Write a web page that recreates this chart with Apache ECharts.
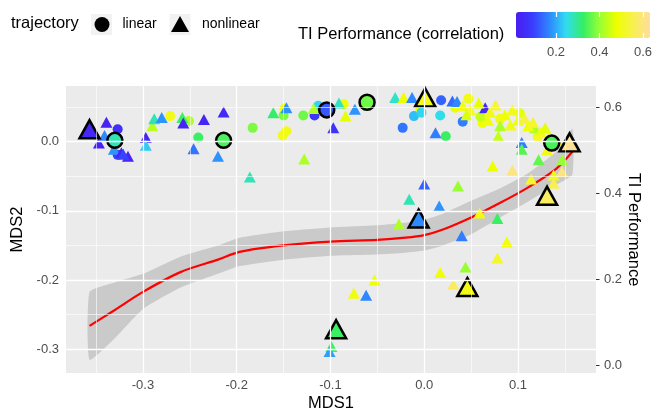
<!DOCTYPE html>
<html>
<head>
<meta charset="utf-8">
<script src="https://cdn.jsdelivr.net/npm/echarts@6/dist/echarts.min.js"></script>
<style>
html, body { margin: 0; padding: 0; background: #fff; }
#main { width: 654px; height: 414px; }
</style>
</head>
<body>
<div id="main"></div>
<script>
// [MDS1, MDS2, TI performance]
var linearPts = [
  [-0.327, 0.018, 0.06], [-0.327, -0.019, 0.10], [-0.271, 0.037, 0.50], [-0.251, 0.030, 0.42],
  [-0.241, 0.006, 0.33], [-0.183, 0.020, 0.38], [-0.149, 0.048, 0.50], [-0.150, 0.038, 0.38],
  [-0.147, 0.015, 0.50], [-0.151, 0.009, 0.50], [-0.129, 0.038, 0.37], [-0.117, 0.038, 0.08],
  [-0.113, 0.052, 0.24], [-0.086, 0.054, 0.48], [-0.023, 0.020, 0.15], [-0.011, 0.037, 0.22],
  [-0.004, 0.047, 0.48], [-0.003, 0.042, 0.24], [0.017, 0.038, 0.25], [0.018, 0.060, 0.13],
  [0.023, 0.008, 0.33], [0.041, 0.029, 0.16], [0.062, 0.027, 0.48], [0.033, 0.049, 0.48],
  [0.047, 0.062, 0.50], [0.081, 0.033, 0.50], [0.102, 0.041, 0.47], [0.121, 0.007, 0.51],
  [0.060, 0.036, 0.44]
];
var nonlinearPts = [
  [-0.339, 0.028, 0.03], [-0.347, -0.002, 0.03], [-0.341, 0.009, 0.17], [-0.331, -0.011, 0.18],
  [-0.323, -0.016, 0.04], [-0.316, -0.021, 0.04], [-0.321, -0.018, 0.10], [-0.297, 0.006, 0.04],
  [-0.297, -0.005, 0.23], [-0.290, 0.023, 0.43], [-0.288, 0.033, 0.28], [-0.280, 0.035, 0.18],
  [-0.258, 0.035, 0.33], [-0.257, 0.027, 0.04], [-0.235, 0.032, 0.04], [-0.246, -0.010, 0.15],
  [-0.214, 0.043, 0.05], [-0.220, -0.021, 0.18], [-0.186, -0.051, 0.28], [-0.161, 0.042, 0.32],
  [-0.147, 0.049, 0.18], [-0.118, 0.048, 0.42], [-0.097, 0.020, 0.07], [-0.091, 0.056, 0.27],
  [-0.084, 0.037, 0.47], [-0.074, 0.047, 0.18], [-0.128, -0.025, 0.42], [-0.031, 0.064, 0.27],
  [-0.022, 0.064, 0.48], [-0.013, 0.064, 0.17], [0.012, 0.013, 0.16], [0.030, 0.059, 0.14],
  [0.035, 0.058, 0.17], [0.065, 0.049, 0.05], [0.081, 0.023, 0.42], [0.079, 0.008, 0.44],
  [0.118, 0.020, 0.42], [0.104, -0.001, 0.16], [0.104, -0.011, 0.35], [0.073, -0.035, 0.48],
  [0.094, -0.041, 0.60], [0.122, -0.026, 0.36], [0.147, -0.026, 0.40], [0.114, -0.054, 0.52],
  [0.138, -0.048, 0.50], [0.147, -0.043, 0.60], [0.138, -0.060, 0.56], [0.000, -0.061, 0.13],
  [0.036, -0.064, 0.40], [-0.016, -0.083, 0.28], [0.016, -0.093, 0.18], [-0.027, -0.119, 0.42],
  [0.059, -0.103, 0.49], [0.078, -0.111, 0.33], [0.040, -0.136, 0.16], [0.088, -0.145, 0.49],
  [0.078, -0.168, 0.52], [0.044, -0.181, 0.40], [0.017, -0.189, 0.49], [0.031, -0.206, 0.57],
  [-0.053, -0.200, 0.49], [-0.075, -0.219, 0.49], [-0.062, -0.222, 0.17], [-0.099, -0.296, 0.33],
  [-0.101, -0.303, 0.19], [0.131, -0.012, 0.50],
  [0.041, 0.052, 0.50], [0.049, 0.046, 0.52], [0.058, 0.056, 0.47], [0.070, 0.043, 0.50],
  [0.076, 0.053, 0.53], [0.086, 0.039, 0.48], [0.094, 0.046, 0.51], [0.100, 0.031, 0.50],
  [0.107, 0.034, 0.54], [0.111, 0.023, 0.49], [0.116, 0.028, 0.52], [0.124, 0.014, 0.50],
  [0.129, 0.020, 0.47], [0.132, 0.005, 0.53], [0.141, 0.002, 0.50], [0.045, 0.039, 0.46],
  [0.068, 0.031, 0.49], [0.092, 0.024, 0.50]
];
// outlined (highlighted) datasets
var linearHi = [
  [-0.330, 0.002, 0.28], [-0.214, 0.002, 0.34], [-0.104, 0.046, 0.12],
  [-0.061, 0.057, 0.37], [0.136, -0.002, 0.34]
];
var nonlinearHi = [
  [-0.357, 0.018, 0.04], [0.001, 0.064, 0.50], [0.155, -0.001, 0.62], [0.131, -0.078, 0.57],
  [-0.006, -0.111, 0.17], [0.046, -0.210, 0.50], [-0.094, -0.271, 0.33]
];

// loess fit of TI performance along MDS1, with confidence band
var smoothX   = [-0.357, -0.33, -0.30, -0.26, -0.22, -0.197, -0.15, -0.10, -0.05, -0.02, 0.0, 0.02, 0.05, 0.08, 0.11, 0.14, 0.158];
var smoothFit = [0.091, 0.128, 0.170, 0.216, 0.245, 0.263, 0.278, 0.287, 0.291, 0.296, 0.302, 0.315, 0.343, 0.376, 0.412, 0.455, 0.496];
var smoothLo  = [0.012, 0.062, 0.130, 0.180, 0.212, 0.230, 0.245, 0.254, 0.257, 0.261, 0.266, 0.278, 0.304, 0.342, 0.379, 0.418, 0.443];
var smoothHi  = [0.170, 0.192, 0.212, 0.252, 0.278, 0.296, 0.311, 0.320, 0.325, 0.331, 0.338, 0.352, 0.382, 0.410, 0.445, 0.495, 0.549];

var xTicks = [-0.3, -0.2, -0.1, 0, 0.1];
var xMinor = [-0.35, -0.25, -0.15, -0.05, 0.05, 0.15];
var yTicks = [-0.3, -0.2, -0.1, 0];
var yMinor = [-0.25, -0.15, -0.05, 0.05];
var perfTicks = [0, 0.2, 0.4, 0.6];
var barTicks = [0.2, 0.4, 0.6];

var FONT = 'Liberation Sans';
var fmt = function (v) { return Number(v).toFixed(1); };

var gridLines = [];
xTicks.forEach(function (v) { gridLines.push({ xAxis: v, lineStyle: { width: 1.3 } }); });
xMinor.forEach(function (v) { gridLines.push({ xAxis: v, lineStyle: { width: 0.6 } }); });
yTicks.forEach(function (v) { gridLines.push({ yAxis: v, lineStyle: { width: 1.3 } }); });
yMinor.forEach(function (v) { gridLines.push({ yAxis: v, lineStyle: { width: 0.6 } }); });

var tickLabel = { color: '#4D4D4D', fontSize: 13, fontFamily: FONT };
var titleText = { color: '#000', fontSize: 16.5, fontFamily: FONT, fontWeight: 'normal' };

// confidence band polygon, placed through the right-hand axis scale
function renderBand(params, api) {
  var upper = smoothX.map(function (x, i) { return api.coord([x, smoothHi[i]]); });
  var lower = smoothX.map(function (x, i) { return api.coord([x, smoothLo[i]]); }).reverse();
  return {
    type: 'polygon',
    shape: { points: upper.concat(lower), smooth: 0.15 },
    style: { fill: 'rgba(153,153,153,0.4)' }
  };
}

var option = {
  animation: false,
  title: [
    { text: 'trajectory', left: 11, top: 15, padding: 0, textStyle: titleText },
    { text: 'TI Performance (correlation)', left: 298, top: 26, padding: 0, textStyle: titleText }
  ],
  graphic: [
    { type: 'rect', shape: { x: 91, y: 14, width: 21, height: 21 }, style: { fill: '#F2F2F2' }, silent: true },
    { type: 'rect', shape: { x: 169.5, y: 14, width: 21, height: 21 }, style: { fill: '#F2F2F2' }, silent: true }
  ],
  legend: [
    { data: [{ name: 'linear', icon: 'circle', itemStyle: { color: '#000' } }],
      left: 94.5, top: 17, padding: 0, itemWidth: 15, itemHeight: 15, selectedMode: false,
      textStyle: { fontSize: 14, color: '#000', fontFamily: FONT, padding: [0, 0, 0, 8] } },
    { data: [{ name: 'nonlinear', icon: 'triangle', itemStyle: { color: '#000' } }],
      left: 171, top: 16, padding: 0, itemWidth: 18, itemHeight: 16, selectedMode: false,
      textStyle: { fontSize: 14, color: '#000', fontFamily: FONT, padding: [0, 0, 0, 8] } }
  ],
  visualMap: {
    type: 'continuous', orient: 'horizontal', left: 516, top: 12, padding: 0,
    itemWidth: 26, itemHeight: 134, min: 0.016, max: 0.632,
    calculable: false, hoverLink: false, seriesIndex: [4, 5, 6, 7], dimension: 2,
    inRange: { color: ['#4A1CF0', '#3A3CFF', '#2E88FF', '#30DDF0', '#33EE66', '#99FF33', '#EEFF00', '#F8F050', '#FFDDA0'] }
  },
  grid: [
    { left: 66, right: 58, top: 86, bottom: 41, show: true, backgroundColor: '#EBEBEB', borderWidth: 0,
      outerBoundsMode: 'none' },
    { left: 516, top: 12, width: 134, height: 26, show: false, outerBoundsMode: 'none' }
  ],
  xAxis: [
    { type: 'value', gridIndex: 0, min: -0.3821, max: 0.1832,
      splitLine: { show: false }, axisLine: { show: false },
      axisTick: { length: 3.5, customValues: xTicks, lineStyle: { color: '#333' } },
      axisLabel: Object.assign({ customValues: xTicks, formatter: fmt, margin: 6 }, tickLabel),
      name: 'MDS1', nameLocation: 'middle', nameGap: 22, nameMoveOverlap: false, nameTextStyle: titleText },
    { type: 'value', gridIndex: 1, min: 0.016, max: 0.632, position: 'bottom', z: 10,
      splitLine: { show: false }, axisLine: { show: false },
      axisTick: { inside: true, length: 5, customValues: barTicks, lineStyle: { color: '#fff', width: 1.2 } },
      axisLabel: Object.assign({ customValues: barTicks, formatter: fmt, margin: 8 }, tickLabel) },
    { type: 'value', gridIndex: 1, min: 0.016, max: 0.632, position: 'top', z: 10,
      splitLine: { show: false }, axisLine: { show: false }, axisLabel: { show: false },
      axisTick: { inside: true, length: 5, customValues: barTicks, lineStyle: { color: '#fff', width: 1.2 } } }
  ],
  yAxis: [
    { type: 'value', gridIndex: 0, min: -0.3342, max: 0.0805,
      splitLine: { show: false }, axisLine: { show: false },
      axisTick: { length: 3.5, customValues: yTicks, lineStyle: { color: '#333' } },
      axisLabel: Object.assign({ customValues: yTicks, formatter: fmt, margin: 7 }, tickLabel),
      name: 'MDS2', nameLocation: 'middle', nameRotate: 90, nameGap: 40, nameMoveOverlap: false, nameTextStyle: titleText },
    { type: 'value', gridIndex: 0, position: 'right', min: -0.0186, max: 0.6488,
      splitLine: { show: false }, axisLine: { show: false },
      axisTick: { length: 3.5, customValues: perfTicks, lineStyle: { color: '#333' } },
      axisLabel: Object.assign({ customValues: perfTicks, formatter: fmt, margin: 8 }, tickLabel),
      name: 'TI Performance', nameLocation: 'middle', nameRotate: -90, nameGap: 29, nameMoveOverlap: false, nameTextStyle: titleText },
    { type: 'value', gridIndex: 1, show: false, min: 0, max: 1 }
  ],
  series: [
    { type: 'line', xAxisIndex: 0, yAxisIndex: 0, data: [], z: 1, silent: true,
      markLine: { silent: true, symbol: ['none', 'none'], label: { show: false },
        lineStyle: { color: '#fff', type: 'solid' }, data: gridLines } },
    { name: 'ci', type: 'custom', xAxisIndex: 0, yAxisIndex: 1, z: 2, silent: true,
      data: [0], renderItem: renderBand },
    { name: 'fit', type: 'line', xAxisIndex: 0, yAxisIndex: 1, symbol: 'none', smooth: 0.3, z: 2,
      lineStyle: { color: '#FF0000', width: 2.2 }, silent: true,
      data: smoothX.map(function (x, i) { return [x, smoothFit[i]]; }) },
    { name: 'spacer', type: 'line', data: [], silent: true },
    { name: 'linear', type: 'scatter', xAxisIndex: 0, yAxisIndex: 0, symbol: 'circle', symbolSize: 10, z: 3,
      itemStyle: { opacity: 1 }, data: linearPts },
    { name: 'nonlinear', type: 'scatter', xAxisIndex: 0, yAxisIndex: 0, symbol: 'triangle', symbolSize: [12, 11], z: 3,
      itemStyle: { opacity: 1 }, data: nonlinearPts },
    { name: 'linearHi', type: 'scatter', xAxisIndex: 0, yAxisIndex: 0, symbol: 'circle', symbolSize: 15, z: 4,
      itemStyle: { opacity: 1, borderColor: '#000', borderWidth: 2.5 }, data: linearHi },
    { name: 'nonlinearHi', type: 'scatter', xAxisIndex: 0, yAxisIndex: 0, symbol: 'triangle', symbolSize: [20, 18], z: 4,
      itemStyle: { opacity: 1, borderColor: '#000', borderWidth: 2.5 }, data: nonlinearHi }
  ]
};

var chart = echarts.init(document.getElementById('main'));
chart.setOption(option);
</script>
</body>
</html>
